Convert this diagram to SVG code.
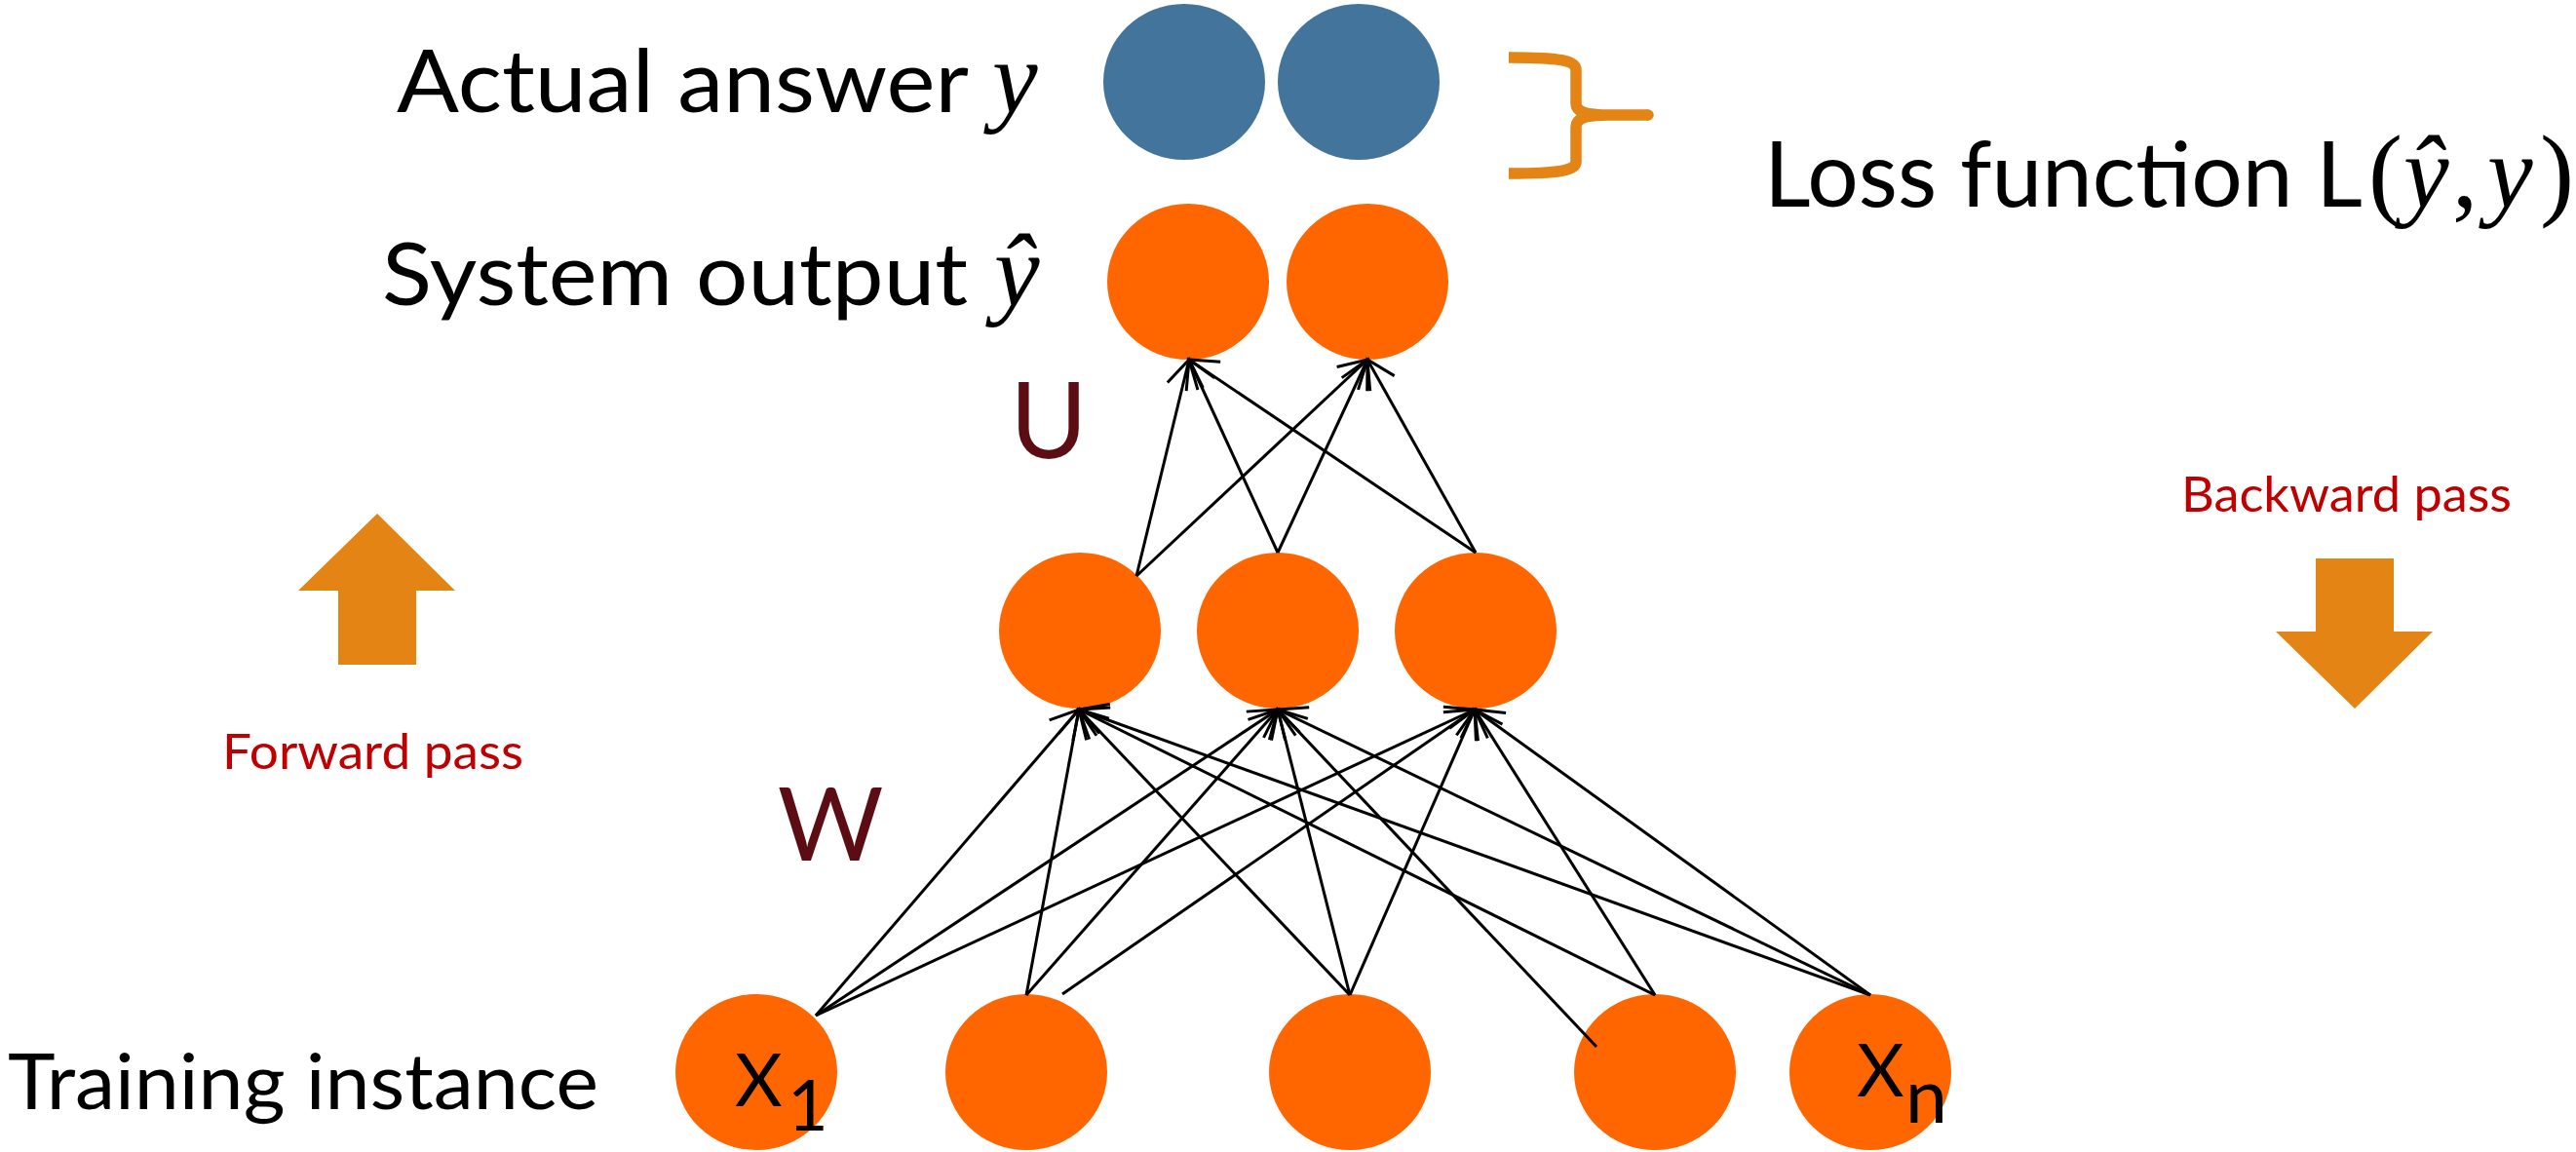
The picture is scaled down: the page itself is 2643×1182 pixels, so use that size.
<svg xmlns="http://www.w3.org/2000/svg" width="2643" height="1182" viewBox="0 0 2643 1182">
<style>
.bg{fill:#ffffff}
.blue{fill:#43749B}
.org{fill:#FF6600}
.lbl{font-family:Lato,"Liberation Sans",sans-serif;fill:#000000}
.math{font-family:"Liberation Serif","DejaVu Serif",serif;font-style:italic;fill:#000000}
.mathr{font-family:"Liberation Serif","DejaVu Serif",serif;fill:#000000}
.mat{font-family:Lato,"Liberation Sans",sans-serif;fill:#5C0D14}
.red{font-family:Lato,"Liberation Sans",sans-serif;fill:#C00000;font-size:51px}
.edge{stroke:#000000;stroke-width:3;fill:none;marker-end:url(#ah)}
.big{fill:#E48415}
</style>
<defs>
<marker id="ah" markerUnits="userSpaceOnUse" markerWidth="40" markerHeight="40" refX="0" refY="0" viewBox="-36 -20 40 40" orient="auto" overflow="visible">
<path d="M-28,-16 L0,0 L-28,16" fill="none" stroke="#000000" stroke-width="3"/>
</marker>
</defs>
<rect class="bg" x="0" y="0" width="2643" height="1182"/>

<g id="label-actual">
<text class="lbl" x="407" y="115" font-size="90" textLength="587" lengthAdjust="spacingAndGlyphs">Actual answer</text>
<text class="math" x="1018" y="115" font-size="105">y</text>
</g>
<g id="label-system">
<text class="lbl" x="392" y="313" font-size="90" textLength="601" lengthAdjust="spacingAndGlyphs">System output</text>
<text class="math" x="1020" y="313" font-size="105">ŷ</text>
</g>
<g id="label-loss">
<text class="lbl" x="1810" y="212" font-size="93" textLength="614" lengthAdjust="spacingAndGlyphs">Loss function L</text>
<text y="212" font-size="105"><tspan class="mathr" x="2430">(</tspan><tspan class="math" x="2466">ŷ</tspan><tspan class="mathr" x="2516">,</tspan><tspan class="math" x="2552">y</tspan><tspan class="mathr" x="2606">)</tspan></text>
</g>
<g id="label-training">
<text class="lbl" x="8" y="1138" font-size="79" textLength="606" lengthAdjust="spacingAndGlyphs">Training instance</text>
</g>
<g id="label-U"><text class="mat" x="1076" y="470" font-size="108" text-anchor="middle">U</text></g>
<g id="label-W"><text class="mat" x="852" y="883" font-size="105" text-anchor="middle">W</text></g>

<g id="forward">
<polygon class="big" points="387,527 467,606 427,606 427,682 347,682 347,606 306,606"/>
<text class="red" x="228" y="789" textLength="309" lengthAdjust="spacingAndGlyphs">Forward pass</text>
</g>
<g id="backward">
<text class="red" x="2238" y="525" textLength="339" lengthAdjust="spacingAndGlyphs">Backward pass</text>
<polygon class="big" points="2376,573 2456,573 2456,648 2496,648 2416,727 2335,648 2376,648"/>
</g>
<g id="brace">
<path d="M1548,59 C1600,59 1617,62 1617,72 L1617,106 C1617,114 1625,118 1650,118 L1691,118 M1650,118 C1625,118 1617,122 1617,130 L1617,166 C1617,175 1600,178 1548,178" fill="none" stroke="#E48415" stroke-width="11.5"/>
<circle cx="1691" cy="118" r="5.75" fill="#E48415"/>
</g>

<g id="actual-1"><ellipse class="blue" cx="1215" cy="84" rx="83" ry="80"/></g>
<g id="actual-2"><ellipse class="blue" cx="1394" cy="84" rx="83" ry="80"/></g>
<g id="output-1"><ellipse class="org" cx="1219" cy="289" rx="83" ry="80"/></g>
<g id="output-2"><ellipse class="org" cx="1403" cy="289" rx="83" ry="80"/></g>
<g id="hidden-1"><ellipse class="org" cx="1108" cy="647" rx="83" ry="80"/></g>
<g id="hidden-2"><ellipse class="org" cx="1311" cy="647" rx="83" ry="80"/></g>
<g id="hidden-3"><ellipse class="org" cx="1514" cy="647" rx="83" ry="80"/></g>
<g id="input-1"><ellipse class="org" cx="776" cy="1100" rx="83" ry="80"/>
<text class="lbl" x="754" y="1135" font-size="75">X</text>
<text class="lbl" x="808" y="1160" font-size="72">1</text></g>
<g id="input-2"><ellipse class="org" cx="1053" cy="1100" rx="83" ry="80"/></g>
<g id="input-3"><ellipse class="org" cx="1385" cy="1100" rx="83" ry="80"/></g>
<g id="input-4"><ellipse class="org" cx="1698" cy="1100" rx="83" ry="80"/></g>
<g id="input-n"><ellipse class="org" cx="1919" cy="1100" rx="83" ry="80"/>
<text class="lbl" x="1905" y="1125" font-size="75">X</text>
<text class="lbl" x="1955" y="1152" font-size="77">n</text></g>

<g id="connectors">
<line class="edge" x1="1166" y1="591" x2="1220" y2="369"/>
<line class="edge" x1="1166" y1="591" x2="1403" y2="369"/>
<line class="edge" x1="1311" y1="567" x2="1220" y2="369"/>
<line class="edge" x1="1311" y1="567" x2="1403" y2="369"/>
<line class="edge" x1="1514" y1="567" x2="1220" y2="369"/>
<line class="edge" x1="1514" y1="567" x2="1403" y2="369"/>
<line class="edge" x1="837" y1="1042" x2="1107" y2="728"/>
<line class="edge" x1="837" y1="1042" x2="1311" y2="728"/>
<line class="edge" x1="837" y1="1042" x2="1513" y2="728"/>
<line class="edge" x1="1053" y1="1021" x2="1107" y2="728"/>
<line class="edge" x1="1053" y1="1021" x2="1311" y2="728"/>
<line class="edge" x1="1090" y1="1020" x2="1513" y2="728"/>
<line class="edge" x1="1385" y1="1021" x2="1107" y2="728"/>
<line class="edge" x1="1385" y1="1021" x2="1311" y2="728"/>
<line class="edge" x1="1385" y1="1021" x2="1513" y2="728"/>
<line class="edge" x1="1698" y1="1021" x2="1107" y2="728"/>
<line class="edge" x1="1698" y1="1021" x2="1513" y2="728"/>
<line class="edge" x1="1638" y1="1074" x2="1311" y2="728"/>
<line class="edge" x1="1919" y1="1021" x2="1107" y2="728"/>
<line class="edge" x1="1919" y1="1021" x2="1311" y2="728"/>
<line class="edge" x1="1919" y1="1021" x2="1513" y2="728"/>
</g>
</svg>
